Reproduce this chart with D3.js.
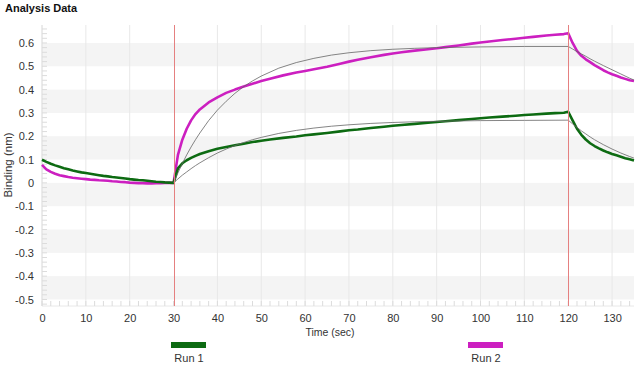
<!DOCTYPE html>
<html><head><meta charset="utf-8">
<script src="https://cdn.jsdelivr.net/npm/d3@7"></script>
<style>body{margin:0;background:#fff}svg{display:block;font-family:"Liberation Sans",Arial,sans-serif}</style>
</head><body><svg id="c" width="640" height="366"></svg>
<script>
const xTicks=[0,10,20,30,40,50,60,70,80,90,100,110,120,130];
const yTicks=[0.6,0.5,0.4,0.3,0.2,0.1,0,-0.1,-0.2,-0.3,-0.4,-0.5];
const yTickLabels=["0.6","0.5","0.4","0.3","0.2","0.1","0","-0.1","-0.2","-0.3","-0.4","-0.5"];
const seriesNames=["Run 1","Run 2"];
const markers=[30,120];
// Run 1 (green) measured
const run1T=[0,1,2,3,4,5,6,7,8,9,10,11,12,13,14,15,16,17,18,19,20,21,22,23,24,25,26,27,28,29,30,31,32,33,34,35,36,38,40,42,44,46,48,50,52,55,58,60,62,65,68,70,72,75,78,80,82,85,88,90,92,95,98,100,102,105,108,110,112,115,117,119,120,121,122,123,124,125,126,127,128,129,130,131,132,133,134,135];
const run1V=[0.099,0.090,0.082,0.075,0.069,0.063,0.058,0.053,0.049,0.045,0.042,0.039,0.036,0.033,0.030,0.028,0.025,0.023,0.021,0.019,0.016,0.014,0.012,0.011,0.009,0.007,0.005,0.004,0.002,0.001,0.000,0.062,0.084,0.097,0.107,0.116,0.124,0.136,0.146,0.154,0.161,0.168,0.175,0.181,0.186,0.193,0.199,0.204,0.208,0.214,0.221,0.226,0.229,0.235,0.241,0.245,0.248,0.253,0.258,0.261,0.264,0.269,0.274,0.277,0.280,0.284,0.288,0.291,0.293,0.297,0.299,0.301,0.305,0.268,0.232,0.206,0.186,0.170,0.158,0.148,0.139,0.131,0.124,0.118,0.112,0.106,0.101,0.096];
// Run 2 (magenta) measured
const run2T=[0,1,2,3,4,5,6,7,8,9,10,11,12,13,14,15,16,17,18,19,20,21,22,23,24,25,26,27,28,29,30,31,32,33,34,35,36,38,40,42,44,46,48,50,52,55,58,60,62,65,68,70,72,75,78,80,82,85,88,90,92,95,98,100,102,105,108,110,112,115,117,119,120,121,122,123,124,125,126,127,128,129,130,131,132,133,134,135];
const run2V=[0.077,0.058,0.047,0.039,0.033,0.029,0.025,0.022,0.020,0.018,0.016,0.014,0.013,0.011,0.010,0.009,0.007,0.006,0.004,0.003,0.001,0.000,-0.001,-0.001,-0.002,-0.002,-0.001,-0.001,0.000,0.000,0.000,0.120,0.185,0.232,0.268,0.295,0.315,0.345,0.367,0.386,0.400,0.413,0.425,0.437,0.447,0.461,0.473,0.480,0.487,0.498,0.511,0.520,0.528,0.539,0.549,0.555,0.560,0.567,0.573,0.577,0.582,0.589,0.597,0.602,0.606,0.613,0.618,0.622,0.626,0.632,0.635,0.638,0.642,0.600,0.566,0.545,0.530,0.518,0.505,0.494,0.483,0.474,0.466,0.459,0.452,0.446,0.440,0.437];
// Fit curves (thin gray)
const fitT=[30,31,32,33,34,35,36,38,40,42,44,46,48,50,54,58,62,66,70,75,80,85,90,100,110,120,121,122,123,124,125,126,128,130,132,134,135];
const fit1V=[0,0.017,0.033,0.047,0.061,0.074,0.086,0.108,0.128,0.145,0.160,0.173,0.185,0.195,0.212,0.225,0.235,0.243,0.249,0.255,0.259,0.262,0.264,0.267,0.268,0.269,0.253,0.238,0.223,0.210,0.197,0.185,0.164,0.145,0.128,0.113,0.106];
const fit2V=[0,0.043,0.083,0.120,0.154,0.185,0.214,0.267,0.312,0.350,0.384,0.413,0.437,0.458,0.492,0.516,0.534,0.548,0.558,0.567,0.573,0.577,0.580,0.583,0.585,0.585,0.574,0.563,0.553,0.543,0.532,0.522,0.503,0.485,0.467,0.449,0.441];

const svg=d3.select("#c");
const L=42,R=634,T=25,B=306;
const x=d3.scaleLinear().domain([0,135]).range([L,R]);
const y=d3.scaleLinear().domain([-0.528,0.677]).range([B,T]);

svg.append("text").attr("x",5).attr("y",12).attr("font-size",11).attr("font-weight","bold").attr("fill","#111").text("Analysis Data");

// bands
const bands=[[0.5,0.6],[0.3,0.4],[0.1,0.2],[-0.1,0],[-0.3,-0.2],[-0.5,-0.4]];
svg.append("g").selectAll("rect").data(bands).join("rect")
  .attr("x",L).attr("width",R-L).attr("y",d=>y(d[1])).attr("height",d=>y(d[0])-y(d[1])).attr("fill","#f4f4f4");
// vertical grid
svg.append("g").selectAll("line").data(xTicks.filter(d=>markers.indexOf(d)<0)).join("line")
  .attr("x1",d=>x(d)).attr("x2",d=>x(d)).attr("y1",T).attr("y2",B).attr("stroke","#e8e8e8").attr("stroke-width",1);
// frame left/bottom light
svg.append("line").attr("x1",L).attr("x2",L).attr("y1",T).attr("y2",B).attr("stroke","#e2e2e2");
svg.append("line").attr("x1",L).attr("x2",R).attr("y1",B).attr("y2",B).attr("stroke","#e8e8e8");
// minor ticks
const yMinor=d3.range(-26,34).map(i=>i*0.02);
svg.append("g").selectAll("line").data(yMinor).join("line")
  .attr("x1",L).attr("x2",L+5).attr("y1",d=>y(d)).attr("y2",d=>y(d)).attr("stroke","#dcdcdc");
const xMinor=d3.range(0,68).map(i=>i*2);
svg.append("g").selectAll("line").data(xMinor).join("line")
  .attr("x1",d=>x(d)).attr("x2",d=>x(d)).attr("y1",B).attr("y2",B-5).attr("stroke","#dcdcdc");

// axes labels
const ya=d3.axisLeft(y).tickValues(yTicks).tickFormat((d,i)=>yTickLabels[i]).tickSize(0).tickPadding(8);
const yg=svg.append("g").attr("transform",`translate(${L},0)`).call(ya);
yg.select(".domain").remove();
yg.selectAll(".tick line").remove();
yg.selectAll("text").attr("font-size",11).attr("fill","#333").attr("font-family","Liberation Sans,Arial,sans-serif");
const xa=d3.axisBottom(x).tickValues(xTicks).tickSize(0).tickPadding(8);
const xg=svg.append("g").attr("transform",`translate(0,${B})`).call(xa);
xg.select(".domain").remove();
xg.selectAll(".tick line").remove();
xg.selectAll("text").attr("font-size",11).attr("fill","#333").attr("font-family","Liberation Sans,Arial,sans-serif");

svg.append("text").attr("x",330).attr("y",336).attr("text-anchor","middle").attr("font-size",10.5).attr("fill","#333").text("Time (sec)");
svg.append("text").attr("transform","translate(12,165) rotate(-90)").attr("text-anchor","middle").attr("font-size",11.5).attr("fill","#333").text("Binding (nm)");

const line=d3.line().x(d=>x(d[0])).y(d=>y(d[1]));
const mk=(T_,V_)=>T_.map((t,i)=>[t,V_[i]]);
const colors=["#0d6b12","#cc1fc0"];
svg.append("path").attr("d",line(mk(run2T,run2V))).attr("fill","none").attr("stroke",colors[1]).attr("stroke-width",2.6).attr("stroke-linejoin","round");
svg.append("path").attr("d",line(mk(run1T,run1V))).attr("fill","none").attr("stroke",colors[0]).attr("stroke-width",2.6).attr("stroke-linejoin","round");
svg.append("path").attr("d",line(mk(fitT,fit1V))).attr("fill","none").attr("stroke","#666").attr("stroke-width",0.8);
svg.append("path").attr("d",line(mk(fitT,fit2V))).attr("fill","none").attr("stroke","#666").attr("stroke-width",0.8);

// markers (drawn on top)
svg.append("g").selectAll("line").data(markers).join("line")
  .attr("x1",d=>Math.round(x(d))+0.5).attr("x2",d=>Math.round(x(d))+0.5).attr("y1",T).attr("y2",B)
  .attr("stroke","#e58080").attr("stroke-width",1);

// legend
const legX=[189,486];
const lg=svg.append("g").selectAll("g").data(seriesNames).join("g").attr("transform",(d,i)=>`translate(${legX[i]},0)`);
lg.append("rect").attr("x",-18).attr("y",342).attr("width",35).attr("height",6).attr("fill",(d,i)=>colors[i]);
lg.append("text").attr("y",362).attr("text-anchor","middle").attr("font-size",11).attr("fill","#333").text(d=>d);
</script></body></html>
